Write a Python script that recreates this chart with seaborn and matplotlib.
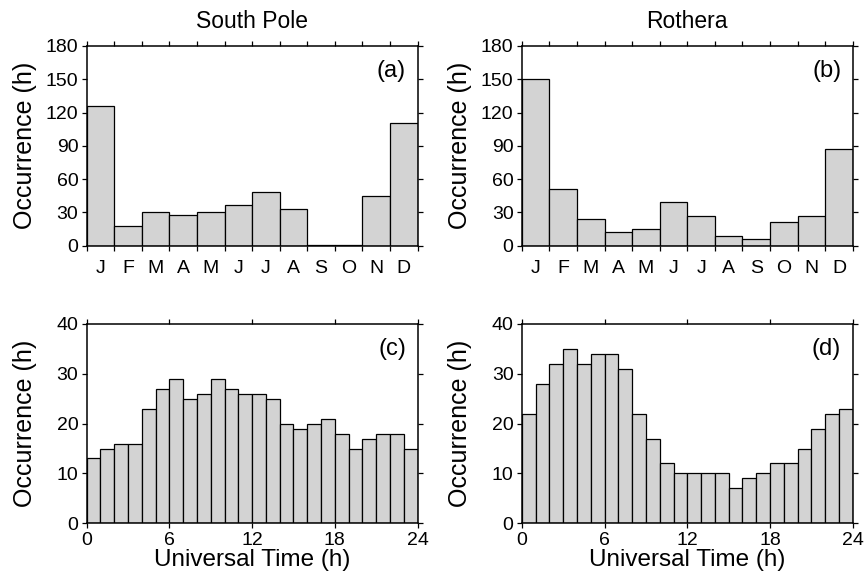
import matplotlib
matplotlib.use("Agg")
import matplotlib.pyplot as plt
import seaborn as sns
import numpy as np
import pandas as pd

sns.set_style("ticks")
plt.rcParams["font.family"] = ["Liberation Sans", "DejaVu Sans"]
plt.rcParams.update({"text.color": "black", "axes.labelcolor": "black",
                     "xtick.color": "black", "ytick.color": "black"})

# monthly occurrence (h)
months = ["J", "F", "M", "A", "M", "J", "J", "A", "S", "O", "N", "D"]
south_pole_month = [126, 18, 30, 28, 30, 37, 48, 33, 0.5, 0.5, 45, 111]
rothera_month = [150, 51, 24, 12, 15, 39, 27, 9, 6, 21, 27, 87]

# hourly occurrence (h), UT 0-24
hours = list(range(24))
south_pole_ut = [13, 15, 16, 16, 23, 27, 29, 25, 26, 29, 27, 26,
                 26, 25, 20, 19, 20, 21, 18, 15, 17, 18, 18, 15]
rothera_ut = [22, 28, 32, 35, 32, 34, 34, 31, 22, 17, 12, 10,
              10, 10, 10, 7, 9, 10, 12, 12, 15, 19, 22, 23]

titles = ["South Pole", "Rothera"]
bar_color = "#d3d3d3"

fig = plt.figure(figsize=(8.64, 5.81), dpi=100)
w, h = 0.383, 0.344
axes = {
    "a": fig.add_axes([0.1003, 0.577, w, h]),
    "b": fig.add_axes([0.604, 0.577, w, h]),
    "c": fig.add_axes([0.1003, 0.0994, w, 0.343]),
    "d": fig.add_axes([0.604, 0.0994, w, 0.343]),
}


def style_axis(ax):
    for s in ax.spines.values():
        s.set_visible(True)
        s.set_linewidth(1.1)
        s.set_color("black")
    ax.tick_params(which="both", direction="out", top=True, right=True,
                   length=3.5, width=0.9, labelsize=14, color="black",
                   pad=2.5)
    ax.set_ylabel("Occurrence (h)", fontsize=18)
    ax.yaxis.set_label_coords(-0.15, 0.5)


# top row: months
for key, vals, title in [("a", south_pole_month, titles[0]),
                         ("b", rothera_month, titles[1])]:
    ax = axes[key]
    df = pd.DataFrame({"pos": np.arange(12), "val": vals})
    sns.barplot(data=df, x="pos", y="val", width=1.0, color=bar_color,
                edgecolor="black", linewidth=0.9, saturation=1, ax=ax)
    ax.set_xlim(-0.5, 11.5)
    ax.set_ylim(0, 180)
    ax.set_yticks(np.arange(0, 181, 30))
    ax.set_xticks(np.arange(-0.5, 12, 1))
    ax.set_xticklabels([])
    ax.set_xticks(np.arange(12), minor=True)
    ax.set_xticklabels(months, minor=True)
    style_axis(ax)
    ax.tick_params(axis="x", which="minor", length=0, pad=10)
    ax.set_xlabel("")
    ax.set_title(title, fontsize=16.5, pad=13)
    ax.text(0.965, 0.93, "(%s)" % key, transform=ax.transAxes,
            ha="right", va="top", fontsize=17)

# bottom row: UT
for key, vals in [("c", south_pole_ut), ("d", rothera_ut)]:
    ax = axes[key]
    df = pd.DataFrame({"ut": np.array(hours) + 0.5, "occ": vals})
    sns.histplot(data=df, x="ut", weights="occ", bins=24, binrange=(0, 24),
                 color=bar_color, edgecolor="black", linewidth=0.9,
                 alpha=1, ax=ax)
    ax.set_xlim(0, 24)
    ax.set_ylim(0, 40)
    ax.set_yticks(np.arange(0, 41, 10))
    ax.set_xticks(np.arange(0, 25, 6))
    style_axis(ax)
    ax.set_xlabel("Universal Time (h)", fontsize=17.5, labelpad=0)
    ax.text(0.965, 0.93, "(%s)" % key, transform=ax.transAxes,
            ha="right", va="top", fontsize=17)

fig.savefig("out.png", dpi=100)
